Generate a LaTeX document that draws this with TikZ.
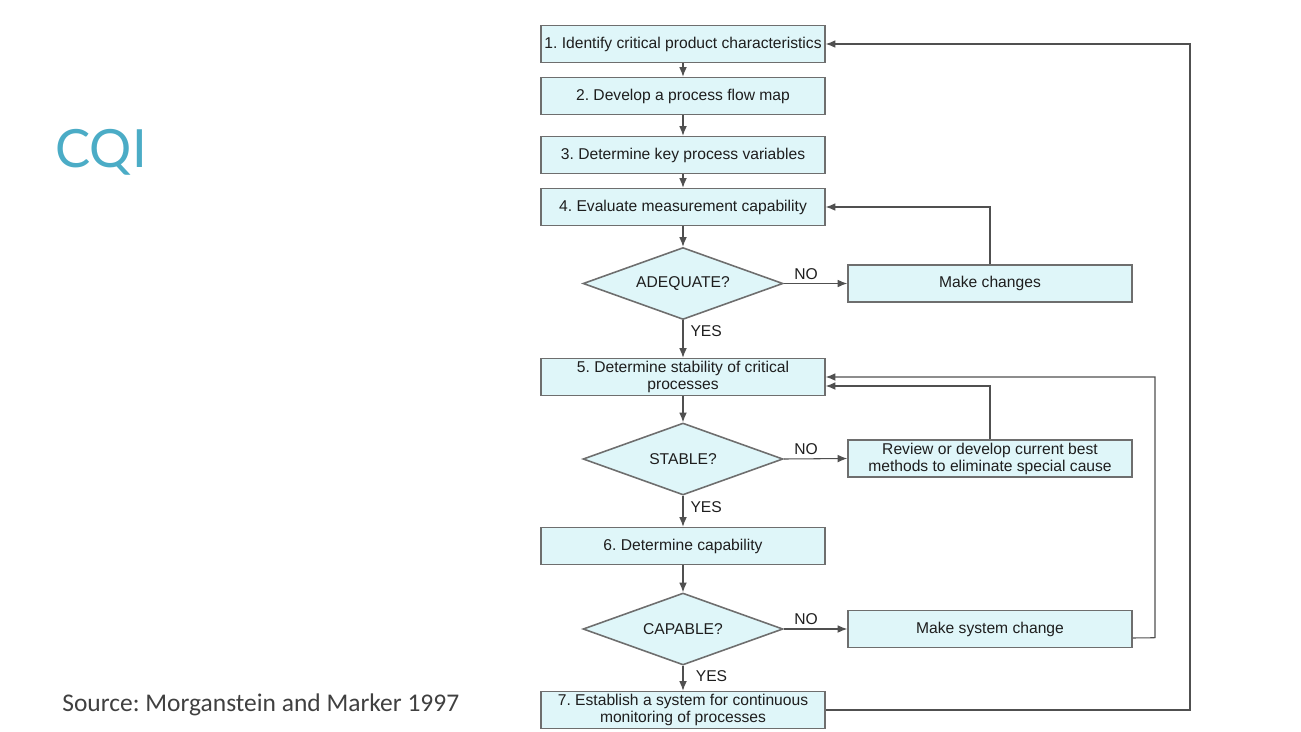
\documentclass[tikz,border=0pt]{standalone}
\usepackage{fontspec}
\setmainfont{Liberation Sans}
\newfontfamily\titlefont{Lato}
\newfontfamily\notefont{Carlito}
\usepackage{tikz}
\usetikzlibrary{shapes.geometric,arrows.meta,calc}
\frenchspacing
\definecolor{boxfill}{HTML}{DFF6F9}
\definecolor{edge}{HTML}{6E6E6E}
\definecolor{wire}{HTML}{505050}
\definecolor{ink}{HTML}{1E1E1E}
\definecolor{cqiteal}{HTML}{4BACC6}
\definecolor{note}{HTML}{404040}
\tikzset{
  stepbox/.style={draw=edge, fill=boxfill, line width=0.9pt, minimum width=5.68cm, minimum height=0.74cm, inner sep=1pt, align=center, text=ink, font=\fontsize{8.9}{9.7}\selectfont},
  choice/.style={diamond, aspect=2.78, draw=edge, fill=boxfill, line width=0.9pt, minimum width=4cm, minimum height=1.44cm, inner sep=0pt, text=ink, font=\fontsize{8.9}{9.7}\selectfont},
  arr/.style={draw=wire, line width=0.6pt, -{Latex[length=5.5pt,width=4.4pt]}},
  yes/.style={right, inner sep=4pt, text=ink, font=\fontsize{8.9}{9.7}\selectfont},
  no/.style={above, inner sep=2pt, text=ink, font=\fontsize{8.9}{9.7}\selectfont}
}

\begin{document}
\begin{tikzpicture}[x=0.02cm, y=-0.02cm]
  \useasboundingbox (0,0) rectangle (1301,731);

  % title and source
  \node[anchor=base west, inner sep=0pt, text=cqiteal, font=\titlefont\fontsize{30}{36}\selectfont] (title) at (55,167) {CQI};
  \node[anchor=base west, inner sep=0pt, text=note, font=\notefont\fontsize{14.5}{17}\selectfont] (source) at (62,711) {Source: Morganstein and Marker 1997};

  % main column
  \node[stepbox] (s1) at (683,44) {1. Identify critical product characteristics};
  \node[stepbox] (s2) at (683,96) {2. Develop a process flow map};
  \node[stepbox] (s3) at (683,155) {3. Determine key process variables};
  \node[stepbox] (s4) at (683,207) {4. Evaluate measurement capability};
  \node[choice] (adequate) at (683,283.5) {ADEQUATE?};
  \node[stepbox] (s5) at (683,377) {5. Determine stability of critical\\processes};
  \node[choice] (stable) at (683,459) {STABLE?};
  \node[stepbox] (s6) at (683,546) {6. Determine capability};
  \node[choice] (capable) at (683,629) {CAPABLE?};
  \node[stepbox] (s7) at (683,710) {7. Establish a system for continuous\\monitoring of processes};

  % side boxes
  \node[stepbox] (changes) at (990,283.5) {Make changes};
  \node[stepbox] (review) at (990,458.5) {Review or develop current best\\methods to eliminate special cause};
  \node[stepbox] (syschange) at (990,629) {Make system change};

  \coordinate (sysout) at ($(syschange.east)+(0,9)$);
  \coordinate (systurn) at (1155,637.7);
  \coordinate (revin) at ($(s5.east)+(0,9)$);
  \coordinate (loopturn) at (1190,710);

  % flow
  \draw[arr] (s1) -- (s2);
  \draw[arr] (s2) -- (s3);
  \draw[arr] (s3) -- (s4);
  \draw[arr] (s4) -- (adequate);
  \draw[arr] (adequate) -- node[yes, pos=0.28]{YES} (s5);
  \draw[arr] (s5) -- (stable);
  \draw[arr] (stable) -- node[yes, pos=0.36]{YES} (s6);
  \draw[arr] (s6) -- (capable);
  \draw[arr] (capable) -- node[yes, pos=0.4, xshift=3pt]{YES} (s7);

  % NO branches
  \draw[arr] (adequate.east) -- node[no, pos=0.35]{NO} (changes.west);
  \draw[arr] (stable.east) -- node[no, pos=0.35]{NO} (review.west);
  \draw[arr] (capable.east) -- node[no, pos=0.35]{NO} (syschange.west);

  % loops back
  \draw[arr] (changes.north) |- (s4.east);
  \draw[arr] (review.north) |- (revin);
  \draw[arr] (sysout) -- (systurn) |- (s5.east);
  \draw[arr] (s7.east) -- (loopturn) |- (s1.east);
\end{tikzpicture}
\end{document}
